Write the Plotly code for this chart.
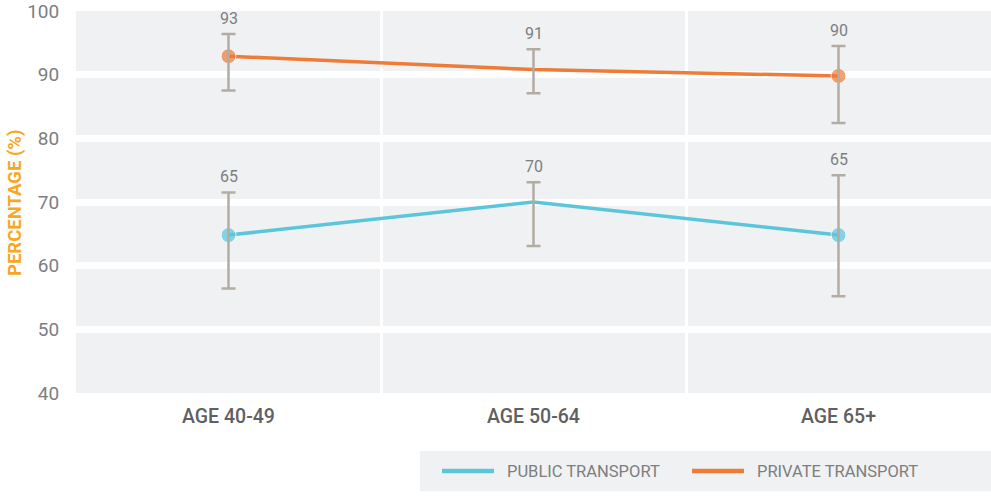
import plotly.graph_objects as go

# ================== DATA ==================
categories = ["AGE 40-49", "AGE 50-64", "AGE 65+"]
x_pos = [0, 1, 2]

public_vals = [64.8, 70.0, 64.8]
public_hi = [71.5, 73.1, 74.2]
public_lo = [56.4, 63.1, 55.2]
public_labels = ["65", "70", "65"]

private_vals = [92.9, 90.8, 89.8]
private_hi = [96.4, 94.0, 94.5]
private_lo = [87.5, 87.1, 82.4]
private_labels = ["93", "91", "90"]

y_ticks = [40, 50, 60, 70, 80, 90, 100]

# ================== STYLE ==================
BLUE = "#5bc6db"
ORANGE = "#ee7b36"
ERR = "#b3aca3"
BG = "#f0f1f3"
GREY = "#7d7e80"
FONT = "Roboto"

fig = go.Figure()


def add_series(name, vals, hi, lo, labels, color):
    # line with markers only at the end points
    fig.add_trace(go.Scatter(
        x=x_pos, y=vals, name=name, mode="lines+markers", showlegend=False,
        line=dict(color=color, width=3.5),
        marker=dict(color=color, size=[15, 0, 15]),
        hoverinfo="skip",
    ))
    # error bars drawn on top of the markers
    fig.add_trace(go.Scatter(
        x=x_pos, y=vals, mode="markers", showlegend=False,
        marker=dict(size=0.1, color="rgba(0,0,0,0)"),
        error_y=dict(
            type="data", symmetric=False,
            array=[h - v for h, v in zip(hi, vals)],
            arrayminus=[v - l for v, l in zip(vals, lo)],
            color=ERR, thickness=2.5, width=7,
        ),
        hoverinfo="skip",
    ))
    # value labels above the error bars
    for x, y, t in zip(x_pos, hi, labels):
        fig.add_annotation(x=x, y=y, text=t, showarrow=False,
                           yanchor="bottom", yshift=4,
                           font=dict(family=FONT, size=16, color=GREY))


add_series("PUBLIC TRANSPORT", public_vals, public_hi, public_lo, public_labels, BLUE)
add_series("PRIVATE TRANSPORT", private_vals, private_hi, private_lo, private_labels, ORANGE)

# legend drawn by hand: grey box, long swatches, text
fig.add_shape(type="rect", xref="paper", yref="paper",
              x0=0.376, x1=1.0, y0=-0.257, y1=-0.152,
              fillcolor=BG, line=dict(width=0), layer="below")
legend_items = [("PUBLIC TRANSPORT", BLUE, 0.400), ("PRIVATE TRANSPORT", ORANGE, 0.6732)]
for text, color, x0 in legend_items:
    fig.add_shape(type="line", xref="paper", yref="paper",
                  x0=x0, x1=x0 + 0.0568, y0=-0.2042, y1=-0.2042,
                  line=dict(color=color, width=4.5))
    fig.add_annotation(xref="paper", yref="paper", x=x0 + 0.0689, y=-0.2042,
                       xanchor="left", yanchor="middle", showarrow=False, text=text,
                       font=dict(family=FONT, size=16.5, color=GREY))

# y axis title as a rotated annotation so it sits exactly where the reference has it
fig.add_annotation(xref="paper", yref="paper", x=-0.0667, y=0.5, textangle=-90,
                   xanchor="center", yanchor="middle", showarrow=False,
                   text="PERCENTAGE (%)",
                   font=dict(family=FONT, size=18.5, color="#f7a823", weight="bold"))

fig.update_layout(
    width=991, height=499,
    margin=dict(l=76, r=0, t=11, b=106),
    paper_bgcolor="white", plot_bgcolor=BG,
    font=dict(family=FONT, color=GREY),
    showlegend=False,
    xaxis=dict(
        range=[-0.5, 2.5], tickvals=x_pos, ticktext=categories,
        showgrid=False, zeroline=False, automargin=False,
        ticks="outside", ticklen=6, tickcolor="rgba(0,0,0,0)",
        tickfont=dict(family=FONT, size=19.5, color="#5f6062", weight=500),
        minor=dict(tickvals=[0.5, 1.5], showgrid=True, gridcolor="white", gridwidth=3),
    ),
    yaxis=dict(
        range=[40, 100], tickvals=y_ticks,
        showgrid=True, gridcolor="white", gridwidth=7, zeroline=False, automargin=False,
        ticks="outside", ticklen=12, tickcolor="rgba(0,0,0,0)",
        ticklabeloverflow="allow",
        tickfont=dict(family=FONT, size=19, color=GREY),
    ),
)

# the page body has an 8px default margin; remove it so the figure fills the window
fig.write_html("out.html", config={"displayModeBar": False},
               post_script="document.body.style.margin='0';")
